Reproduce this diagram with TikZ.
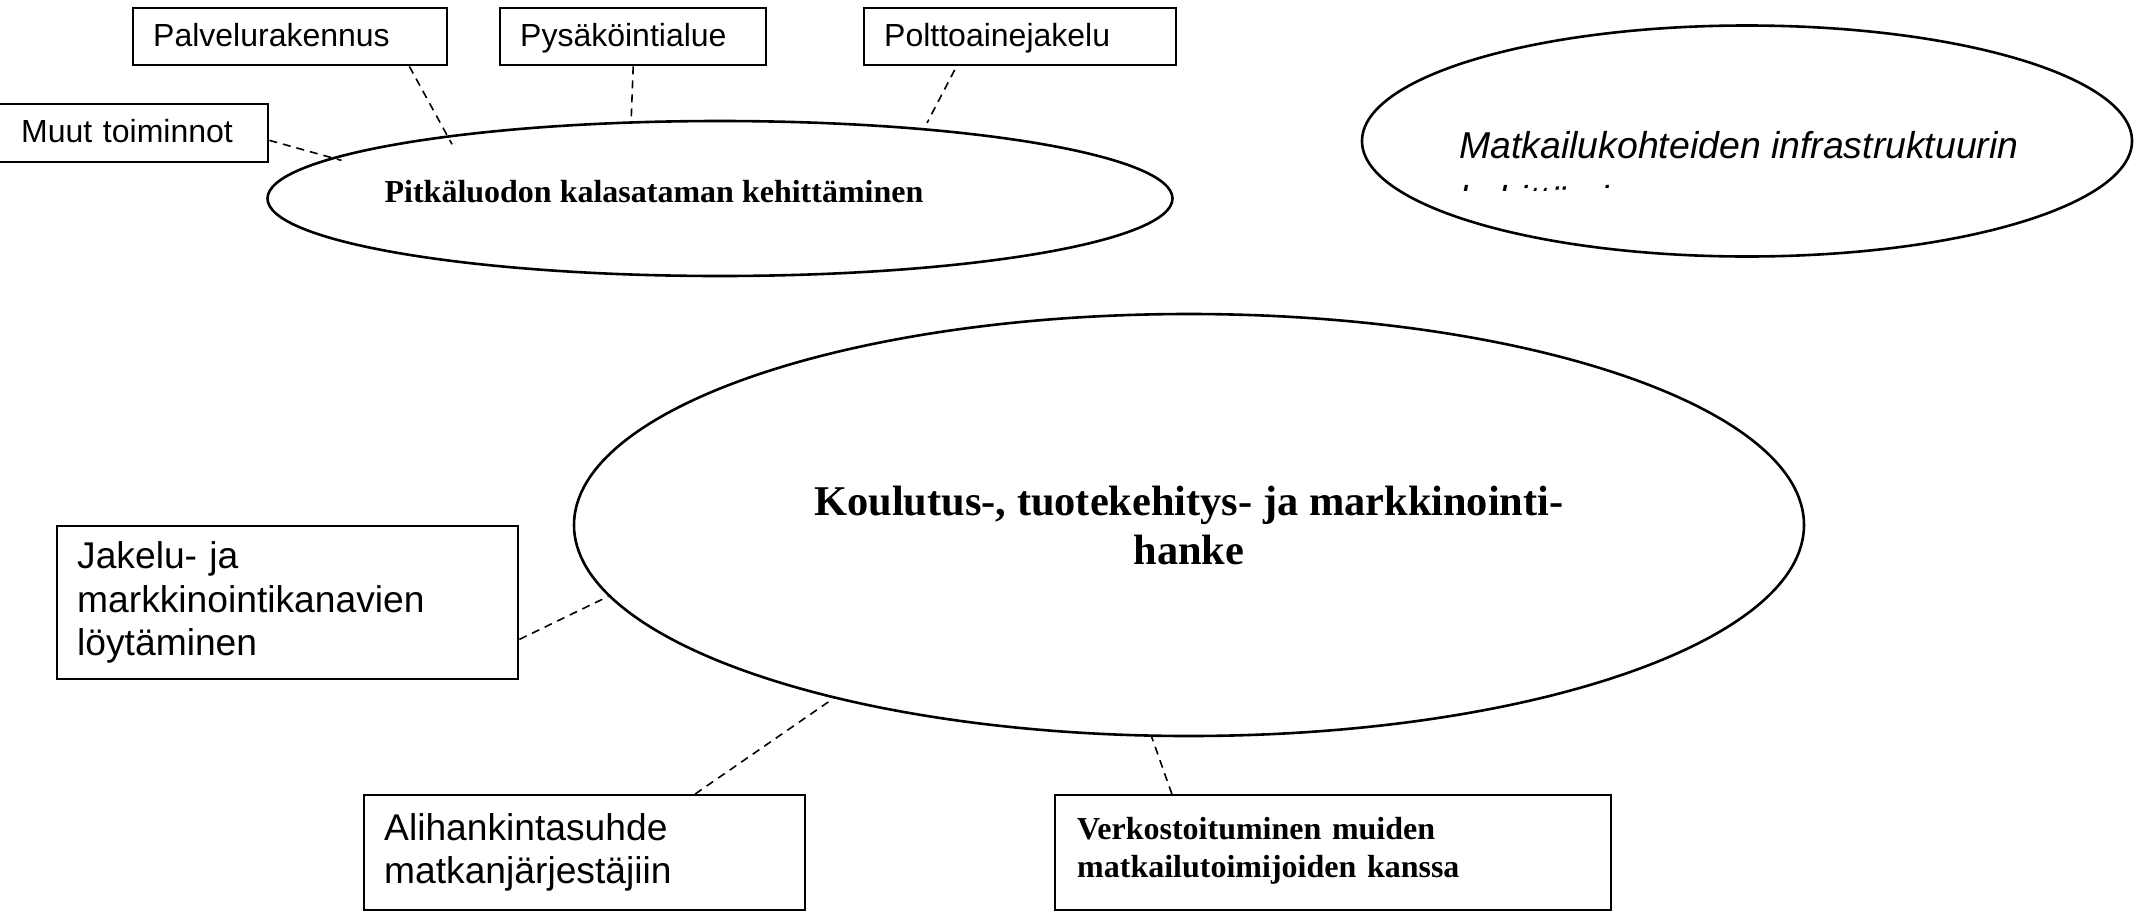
\documentclass[tikz,border=0pt]{standalone}
\usepackage{fontspec}
\setmainfont{Liberation Sans}
\newfontfamily\timesfont{Liberation Serif}
\usetikzlibrary{shapes.geometric}

\begin{document}
\begin{tikzpicture}[x=0.5pt, y=-0.5pt,
    box/.style={draw, rectangle, line width=1.2pt, anchor=north west, align=left, inner xsep=10pt, inner ysep=0pt},
    goal/.style={draw, ellipse, line width=1.3pt, inner sep=0pt},
    link/.style={line width=0.8pt, dash pattern=on 4pt off 3pt},
    smalltext/.style={font=\fontsize{16}{19}\selectfont, text depth=2pt},
    largetext/.style={font=\fontsize{18.6}{21.8}\selectfont},
    boldserif/.style={font=\timesfont\bfseries\fontsize{16}{19}\selectfont}]
    \useasboundingbox (0,0) rectangle (2138,911);

    % Ellipses
    \node[goal, minimum width=452.5pt, minimum height=77.5pt,
        label={[boldserif, xshift=-33pt, yshift=3.3pt]center:Pitkäluodon kalasataman kehittäminen}] (harbour) at (720,198.5) {};
    \node[goal, minimum width=385pt, minimum height=115.5pt] (infra) at (1747,141) {};
    \node[goal, minimum width=615pt, minimum height=211pt, align=center,
        font=\timesfont\bfseries\fontsize{21.2}{24.5}\selectfont] (training) at (1189,525)
        {Koulutus-, tuotekehitys- ja markkinointi-\\hanke};

    % Text of the right ellipse, second line cut off
    \node[anchor=base west, inner sep=0pt, font=\itshape\fontsize{18.7}{22}\selectfont] (infra1) at (1459,158) {Matkailukohteiden infrastruktuurin};
    \begin{scope}
        \clip (1400,170) rectangle (2100,190);
        \node[anchor=base west, inner sep=0pt, font=\itshape\fontsize{18.7}{22}\selectfont] (infra2) at (1459,212) {kehittäminen};
    \end{scope}

    % Boxes
    \node[box, smalltext, text width=137pt, minimum height=28.5pt] (service) at (132,7) {Palvelurakennus};
    \node[box, smalltext, text width=113pt, minimum height=28.5pt] (parking) at (499,7) {Pysäköintialue};
    \node[box, smalltext, text width=136pt, minimum height=28.5pt] (fuel) at (863,7) {Polttoainejakelu};
    \node[box, smalltext, inner xsep=12pt, text width=111.5pt, minimum height=29pt] (misc) at (-4,103) {Muut toiminnot};
    \node[box, largetext, text width=210.5pt, minimum height=76.5pt] (channels) at (56,525)
        {Jakelu- ja\\markkinointikanavien\\löytäminen};
    \node[box, font=\fontsize{18.6}{21.5}\selectfont, text width=200.5pt, minimum height=57.5pt] (subcontract) at (363,794)
        {Alihankintasuhde\\matkanjärjestäjiin};
    \node[box, boldserif, inner xsep=11pt, text width=256pt, minimum height=57.5pt] (network) at (1054,794)
        {Verkostoituminen muiden\\matkailutoimijoiden kanssa\rule[-5.5pt]{0pt}{0pt}};

    % Links
    \draw[link, shorten >=-5pt] (service.-14) -- (harbour.167.5);
    \draw[link] (parking.south) -- (harbour.139.5);
    \draw[link, shorten <=2pt, shorten >=3pt] (fuel.205) -- (harbour.19.8);
    \draw[link, shorten >=-5pt] (misc.-3.6) -- (harbour.174.4);
    \draw[link] (channels.-9.4) -- (training.187.6);
    \draw[link] (subcontract.28.1) -- (training.206.6);
    \draw[link] (network.160.5) -- (training.260);
\end{tikzpicture}
\end{document}
